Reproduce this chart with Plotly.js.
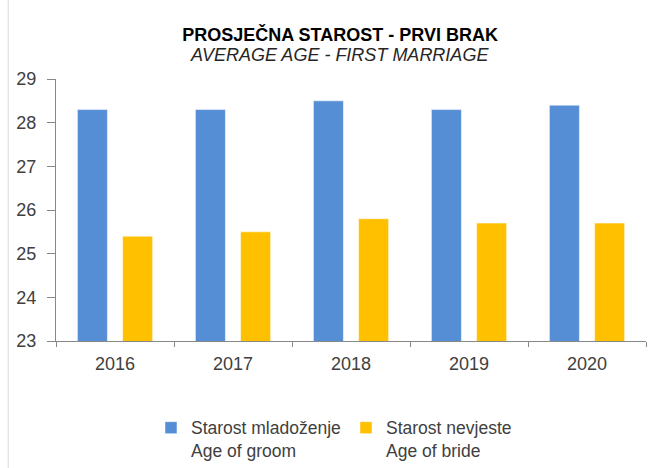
<!DOCTYPE html>
<html><head><meta charset="utf-8">
<script src="https://cdn.plot.ly/plotly-3.0.1.min.js"></script>
<style>html,body{margin:0;padding:0;background:#fff}</style>
</head><body>
<div id="chart" style="width:654px;height:468px"></div>
<script>
var years = ['2016','2017','2018','2019','2020'];
var groomAge = [28.3, 28.3, 28.5, 28.3, 28.4];
var brideAge = [25.4, 25.5, 25.8, 25.7, 25.7];
var groomName = 'Starost mladoženje<br>Age of groom';
var brideName = 'Starost nevjeste<br>Age of bride';
var yTicks = [23,24,25,26,27,28,29];
var titleMain = 'PROSJEČNA STAROST - PRVI BRAK';
var titleSub = 'AVERAGE AGE - FIRST MARRIAGE';

var font = 'Liberation Sans, Arial, sans-serif';
var traces = [
  {type:'bar', x:years, y:groomAge, name:groomName, marker:{color:'#558ED5', line:{color:'#ffffff', width:0.5}}, hoverinfo:'none'},
  {type:'bar', x:years, y:brideAge, name:brideName, marker:{color:'#FFC000', line:{color:'#ffffff', width:0.5}}, hoverinfo:'none'}
];
var layout = {
  width:654, height:468,
  margin:{l:56, r:8, t:79, b:127, autoexpand:false},
  paper_bgcolor:'#fff', plot_bgcolor:'#fff',
  font:{family:font, color:'#404040', size:18},
  title:{text:'<b>' + titleMain + '</b>', x:0.52, xanchor:'center', y:0.925, yanchor:'middle',
    font:{family:font, size:18, color:'#000'}},
  annotations:[{text:'<i>' + titleSub + '</i>', xref:'paper', yref:'paper', x:0.48, y:1.0916,
    xanchor:'center', yanchor:'middle', showarrow:false, font:{family:font, size:18, color:'#262626'}}],
  barmode:'group', bargap:0.234, bargroupgap:0.336,
  xaxis:{type:'category', showline:true, linecolor:'#888', linewidth:1, ticks:'outside', tickson:'boundaries',
    ticklen:5, tickcolor:'#888', showgrid:false, tickfont:{size:18, color:'#404040'}, zeroline:false, ticklabelstandoff:6},
  yaxis:{range:[23,29], tickvals:yTicks, showline:true, linecolor:'#888', linewidth:1, ticks:'outside', ticklen:8,
    tickcolor:'#888', showgrid:false, zeroline:false, tickfont:{size:18, color:'#404040'}, ticklabelstandoff:7},
  showlegend:true,
  legend:{orientation:'h', x:0.161, xanchor:'left', yref:'container', y:0.1244, yanchor:'top', valign:'top',
    font:{size:17.5, color:'#404040'}, entrywidth:150, entrywidthmode:'pixels', itemwidth:30},
  shapes:[{type:'line', xref:'paper', yref:'paper', x0:-0.081, x1:-0.081, y0:-0.49, y1:1.31, line:{color:'#d9d9d9', width:1}}]
};
Plotly.newPlot('chart', traces, layout, {displayModeBar:false, staticPlot:true});
</script>
</body></html>
